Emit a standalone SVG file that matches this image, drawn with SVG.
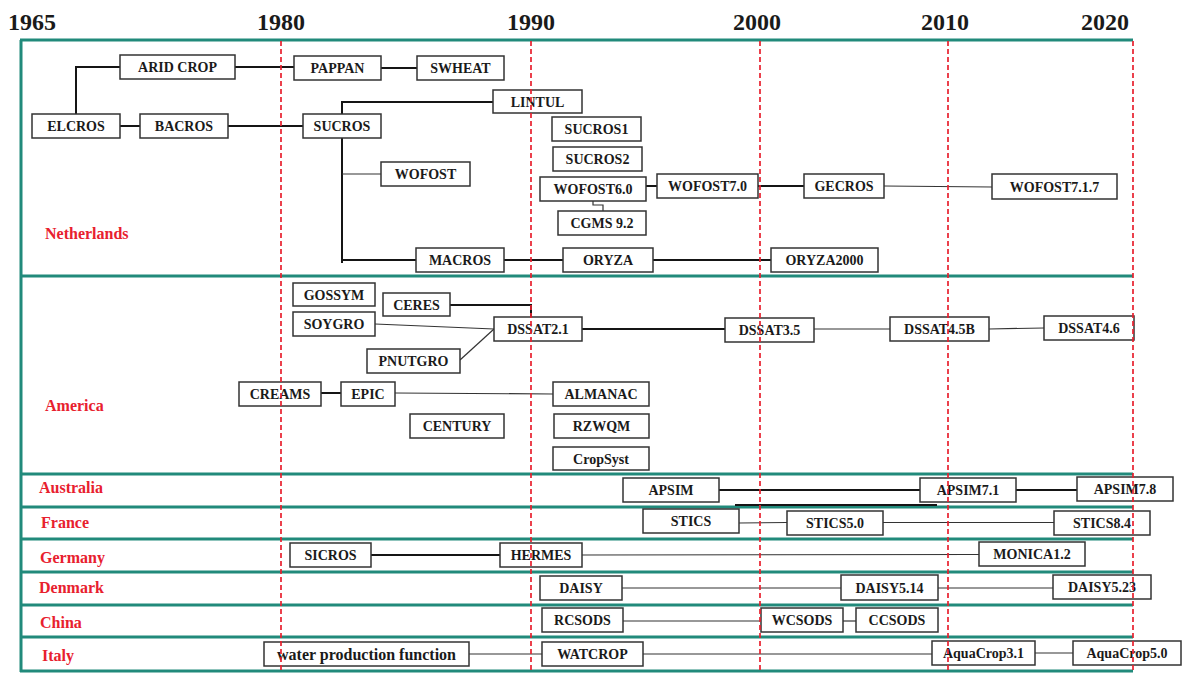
<svg xmlns="http://www.w3.org/2000/svg" width="1198" height="685" viewBox="0 0 1198 685">
<style>
.frame{stroke:#218a7b;stroke-width:3;fill:none}
.grid{stroke:#e8202e;stroke-width:1.7;stroke-dasharray:5 3;fill:none}
.node rect{fill:#fff;stroke:#333;stroke-width:1.5}
.node text{font-family:"Liberation Serif","Times New Roman",serif;font-weight:bold;font-size:14px;fill:#1a1a1a;text-anchor:middle}
.thick{stroke:#151515;stroke-width:2;fill:none}
.thin{stroke:#333;stroke-width:1.2;fill:none}
.country{font-family:"Liberation Serif","Times New Roman",serif;font-weight:bold;font-size:16px;fill:#e8202e}
.year{font-family:"Liberation Serif","Times New Roman",serif;font-weight:bold;font-size:24px;fill:#1a1a1a}
</style>
<rect width="1198" height="685" fill="#fff"/>
<g id="years">
<text class="year" x="8" y="30">1965</text>
<text class="year" x="257" y="30">1980</text>
<text class="year" x="507" y="30">1990</text>
<text class="year" x="733" y="30">2000</text>
<text class="year" x="921" y="30">2010</text>
<text class="year" x="1081" y="30">2020</text>
</g>
<g id="frame">
<line class="frame" x1="21" y1="40" x2="21" y2="672"/>
<line class="frame" x1="20" y1="40" x2="1133" y2="40"/>
<line class="frame" x1="20" y1="276" x2="1133" y2="276"/>
<line class="frame" x1="20" y1="474" x2="1133" y2="474"/>
<line class="frame" x1="20" y1="507" x2="1133" y2="507"/>
<line class="frame" x1="20" y1="539" x2="1133" y2="539"/>
<line class="frame" x1="20" y1="572" x2="1133" y2="572"/>
<line class="frame" x1="20" y1="605" x2="1133" y2="605"/>
<line class="frame" x1="20" y1="637" x2="1133" y2="637"/>
<line class="frame" x1="20" y1="671" x2="1133" y2="671"/>
</g>
<g id="countries">
<text class="country" x="45" y="239">Netherlands</text>
<text class="country" x="45" y="411">America</text>
<text class="country" x="39" y="493">Australia</text>
<text class="country" x="41" y="528">France</text>
<text class="country" x="40" y="563">Germany</text>
<text class="country" x="39" y="593">Denmark</text>
<text class="country" x="40" y="628">China</text>
<text class="country" x="42" y="661">Italy</text>
</g>
<g id="connectors">
<path class="thick" d="M76,114 V67 H120"/>
<path class="thick" d="M235,67 H294"/>
<path class="thick" d="M381,68 H417"/>
<path class="thick" d="M120,126 H140"/>
<path class="thick" d="M228,126 H303"/>
<path class="thick" d="M342,114 V102 H493"/>
<path class="thick" d="M342,138 V263"/>
<path class="thin" d="M342,174 H381"/>
<path class="thick" d="M342,260 H416"/>
<path class="thick" d="M504,260 H563"/>
<path class="thick" d="M653,260 H771"/>
<path class="thick" d="M646,186 H657"/>
<path class="thin" d="M593,201 V205 H603 V211"/>
<path class="thick" d="M758,186 H804"/>
<path class="thin" d="M884,186 L992,187"/>
<path class="thick" d="M450,305 H531 V317"/>
<path class="thin" d="M375,324 L494,329"/>
<path class="thin" d="M460,360 L494,329"/>
<path class="thick" d="M582,329 H725"/>
<path class="thin" d="M814,329 H890"/>
<path class="thin" d="M989,329 L1044,328"/>
<path class="thick" d="M321,393 H341"/>
<path class="thin" d="M395,393 L553,394"/>
<path class="thick" d="M719,490 H920"/>
<path class="thick" d="M1016,490 H1077"/>
<path class="thick" d="M735,505 H937"/>
<path class="thin" d="M739,523 L787,522.5"/>
<path class="thin" d="M883,522.5 H1054"/>
<path class="thick" d="M371,555 H500"/>
<path class="thin" d="M582,555 L979,554.5"/>
<path class="thin" d="M622,588 H841"/>
<path class="thin" d="M938,588 H1053"/>
<path class="thin" d="M623,621 H761"/>
<path class="thin" d="M843,621 H856"/>
<path class="thin" d="M469,654 H542"/>
<path class="thin" d="M643,654 H932"/>
<path class="thin" d="M1035,653 H1073"/>
</g>
<g id="aridcrop" class="node"><rect x="120" y="55" width="115" height="24"/><text x="177.5" y="72">ARID CROP</text></g>
<g id="pappan" class="node"><rect x="294" y="56" width="87" height="24"/><text x="337.5" y="73">PAPPAN</text></g>
<g id="swheat" class="node"><rect x="417" y="56" width="87" height="24"/><text x="460.5" y="73">SWHEAT</text></g>
<g id="lintul" class="node"><rect x="493" y="90" width="89" height="23"/><text x="537.5" y="106.5">LINTUL</text></g>
<g id="elcros" class="node"><rect x="32" y="114" width="88" height="24"/><text x="76" y="131">ELCROS</text></g>
<g id="bacros" class="node"><rect x="140" y="114" width="88" height="24"/><text x="184" y="131">BACROS</text></g>
<g id="sucros" class="node"><rect x="303" y="114" width="78" height="24"/><text x="342" y="131">SUCROS</text></g>
<g id="wofost" class="node"><rect x="381" y="162" width="89" height="24"/><text x="425.5" y="179">WOFOST</text></g>
<g id="macros" class="node"><rect x="416" y="248" width="88" height="24"/><text x="460" y="265">MACROS</text></g>
<g id="sucros1" class="node"><rect x="552" y="117" width="89" height="24"/><text x="596.5" y="134">SUCROS1</text></g>
<g id="sucros2" class="node"><rect x="553" y="147" width="89" height="24"/><text x="597.5" y="164">SUCROS2</text></g>
<g id="wofost60" class="node"><rect x="540" y="177" width="106" height="24"/><text x="593" y="194">WOFOST6.0</text></g>
<g id="wofost70" class="node"><rect x="657" y="174" width="101" height="24"/><text x="707.5" y="191">WOFOST7.0</text></g>
<g id="cgms92" class="node"><rect x="558" y="211" width="88" height="24"/><text x="602" y="228">CGMS 9.2</text></g>
<g id="gecros" class="node"><rect x="804" y="174" width="80" height="24"/><text x="844" y="191">GECROS</text></g>
<g id="wofost717" class="node"><rect x="992" y="174" width="125" height="25"/><text x="1054.5" y="191.5">WOFOST7.1.7</text></g>
<g id="oryza" class="node"><rect x="563" y="248" width="90" height="24"/><text x="608" y="265">ORYZA</text></g>
<g id="oryza2000" class="node"><rect x="771" y="248" width="107" height="24"/><text x="824.5" y="265">ORYZA2000</text></g>
<g id="gossym" class="node"><rect x="293" y="283" width="82" height="23"/><text x="334" y="299.5">GOSSYM</text></g>
<g id="ceres" class="node"><rect x="383" y="293" width="67" height="23"/><text x="416.5" y="309.5">CERES</text></g>
<g id="soygro" class="node"><rect x="293" y="312" width="82" height="24"/><text x="334" y="329">SOYGRO</text></g>
<g id="dssat21" class="node"><rect x="494" y="317" width="88" height="24"/><text x="538" y="334">DSSAT2.1</text></g>
<g id="pnutgro" class="node"><rect x="367" y="349" width="93" height="24"/><text x="413.5" y="366">PNUTGRO</text></g>
<g id="creams" class="node"><rect x="239" y="382" width="82" height="24"/><text x="280" y="399">CREAMS</text></g>
<g id="epic" class="node"><rect x="341" y="382" width="54" height="24"/><text x="368" y="399">EPIC</text></g>
<g id="almanac" class="node"><rect x="553" y="382" width="96" height="24"/><text x="601" y="399">ALMANAC</text></g>
<g id="century" class="node"><rect x="410" y="414" width="94" height="24"/><text x="457" y="431">CENTURY</text></g>
<g id="rzwqm" class="node"><rect x="554" y="414" width="95" height="24"/><text x="601.5" y="431">RZWQM</text></g>
<g id="cropsyst" class="node"><rect x="553" y="447" width="96" height="23"/><text x="601" y="463.5">CropSyst</text></g>
<g id="dssat35" class="node"><rect x="725" y="318" width="89" height="24"/><text x="769.5" y="335">DSSAT3.5</text></g>
<g id="dssat45b" class="node"><rect x="890" y="317" width="99" height="24"/><text x="939.5" y="334">DSSAT4.5B</text></g>
<g id="dssat46" class="node"><rect x="1044" y="316" width="90" height="24"/><text x="1089" y="333">DSSAT4.6</text></g>
<g id="apsim" class="node"><rect x="623" y="478" width="96" height="24"/><text x="671" y="495">APSIM</text></g>
<g id="apsim71" class="node"><rect x="920" y="478" width="96" height="24"/><text x="968" y="495">APSIM7.1</text></g>
<g id="apsim78" class="node"><rect x="1077" y="477" width="96" height="24"/><text x="1125" y="494">APSIM7.8</text></g>
<g id="stics" class="node"><rect x="643" y="509" width="96" height="24"/><text x="691" y="526">STICS</text></g>
<g id="stics50" class="node"><rect x="787" y="511" width="96" height="24"/><text x="835" y="528">STICS5.0</text></g>
<g id="stics84" class="node"><rect x="1054" y="511" width="96" height="24"/><text x="1102" y="528">STICS8.4</text></g>
<g id="sicros" class="node"><rect x="290" y="543" width="81" height="24"/><text x="330.5" y="560">SICROS</text></g>
<g id="hermes" class="node"><rect x="500" y="543" width="82" height="24"/><text x="541" y="560">HERMES</text></g>
<g id="monica12" class="node"><rect x="979" y="542" width="106" height="24"/><text x="1032" y="559">MONICA1.2</text></g>
<g id="daisy" class="node"><rect x="540" y="576" width="82" height="24"/><text x="581" y="593">DAISY</text></g>
<g id="daisy514" class="node"><rect x="841" y="575" width="97" height="25"/><text x="889.5" y="592.5">DAISY5.14</text></g>
<g id="daisy523" class="node"><rect x="1053" y="575" width="98" height="24"/><text x="1102" y="592">DAISY5.23</text></g>
<g id="rcsods" class="node"><rect x="542" y="608" width="81" height="24"/><text x="582.5" y="625">RCSODS</text></g>
<g id="wcsods" class="node"><rect x="761" y="608" width="82" height="24"/><text x="802" y="625">WCSODS</text></g>
<g id="ccsods" class="node"><rect x="856" y="608" width="82" height="24"/><text x="897" y="625">CCSODS</text></g>
<g id="wpf" class="node"><rect x="264" y="642" width="205" height="24"/><text x="366.5" y="659.5" style="font-size:16px">water production function</text></g>
<g id="watcrop" class="node"><rect x="542" y="642" width="101" height="24"/><text x="592.5" y="659">WATCROP</text></g>
<g id="aquacrop31" class="node"><rect x="932" y="641" width="103" height="24"/><text x="983.5" y="658">AquaCrop3.1</text></g>
<g id="aquacrop50" class="node"><rect x="1073" y="641" width="108" height="24"/><text x="1127" y="658">AquaCrop5.0</text></g>
<g id="gridlines">
<line class="grid" x1="281" y1="41" x2="281" y2="670"/>
<line class="grid" x1="531" y1="41" x2="531" y2="670"/>
<line class="grid" x1="760" y1="41" x2="760" y2="670"/>
<line class="grid" x1="948" y1="41" x2="948" y2="670"/>
<line class="grid" x1="1133" y1="41" x2="1133" y2="670"/>
</g>
</svg>
